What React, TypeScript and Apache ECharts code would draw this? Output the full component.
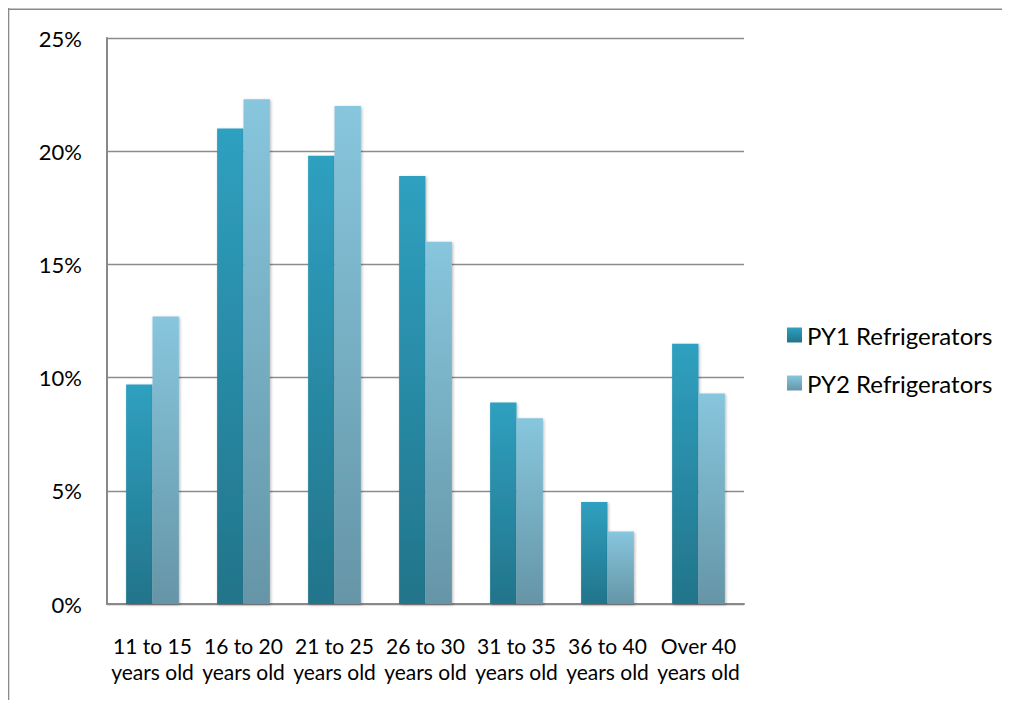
import React, { useEffect, useRef } from "react";
import * as echarts from "echarts";

const categories = [
  "11 to 15\nyears old",
  "16 to 20\nyears old",
  "21 to 25\nyears old",
  "26 to 30\nyears old",
  "31 to 35\nyears old",
  "36 to 40\nyears old",
  "Over 40\nyears old",
];
const seriesNames = ["PY1 Refrigerators", "PY2 Refrigerators"];
const py1Values = [0.097, 0.21, 0.198, 0.189, 0.089, 0.045, 0.115];
const py2Values = [0.127, 0.223, 0.22, 0.16, 0.082, 0.032, 0.093];

const FONT = "Lato, 'Open Sans', sans-serif";

function grad(top: string, bottom: string) {
  return new echarts.graphic.LinearGradient(0, 0, 0, 1, [
    { offset: 0, color: top },
    { offset: 1, color: bottom },
  ]);
}

export default function App() {
  const ref = useRef<HTMLDivElement>(null);
  useEffect(() => {
    if (!ref.current) return;
    const chart = echarts.init(ref.current, undefined, { renderer: "svg" });
    const shadow = {
      shadowBlur: 3,
      shadowColor: "rgba(0,0,0,0.28)",
      shadowOffsetX: 1,
      shadowOffsetY: 1,
    };
    chart.setOption({
      animation: false,
      backgroundColor: "#ffffff",
      graphic: [
        {
          type: "line",
          shape: { x1: 0, y1: 1.2, x2: 1100, y2: 1.2 },
          style: { stroke: "#8a8a8a", lineWidth: 1.6 },
          silent: true,
        },
        {
          type: "line",
          shape: { x1: 0.5, y1: 0, x2: 0.5, y2: 800 },
          style: { stroke: "#8a8a8a", lineWidth: 1.6 },
          silent: true,
        },
      ],
      grid: { left: 99, top: 30, width: 637, height: 566 },
      legend: {
        orient: "vertical",
        left: 774,
        top: 310,
        itemWidth: 15,
        itemHeight: 15,
        itemGap: 24,
        icon: "rect",
        textStyle: { fontFamily: FONT, fontSize: 24, color: "#000", lineHeight: 24 },
        data: seriesNames,
      },
      xAxis: {
        type: "category",
        data: categories,
        axisLine: { show: true, lineStyle: { color: "#898989", width: 2 } },
        axisTick: { show: false },
        axisLabel: {
          interval: 0,
          margin: 28,
          fontFamily: FONT,
          fontSize: 21,
          lineHeight: 26,
          color: "#000",
        },
      },
      yAxis: {
        type: "value",
        min: 0,
        max: 0.25,
        interval: 0.05,
        axisLine: { show: true, lineStyle: { color: "#898989", width: 2 } },
        axisTick: { show: false },
        splitLine: { show: true, lineStyle: { color: "#8c8c8c", width: 1.3 } },
        axisLabel: {
          margin: 25,
          fontFamily: FONT,
          fontSize: 22,
          color: "#000",
          formatter: (v: number) => `${Math.round(v * 100)}%`,
        },
      },
      series: [
        {
          name: seriesNames[0],
          type: "bar",
          data: py1Values,
          barGap: "0%",
          barCategoryGap: "42%",
          itemStyle: { color: grad("#2fa0c0", "#22748a"), ...shadow },
          z: 3,
        },
        {
          name: seriesNames[1],
          type: "bar",
          data: py2Values,
          barGap: "0%",
          barCategoryGap: "42%",
          itemStyle: { color: grad("#87c6dd", "#6595a7"), ...shadow },
          z: 3,
        },
      ],
    });
    return () => chart.dispose();
  }, []);
  return (
    <div style={{ width: 994, height: 692, overflow: "hidden" }}>
      <div ref={ref} style={{ width: 1030, height: 720 }} />
    </div>
  );
}
